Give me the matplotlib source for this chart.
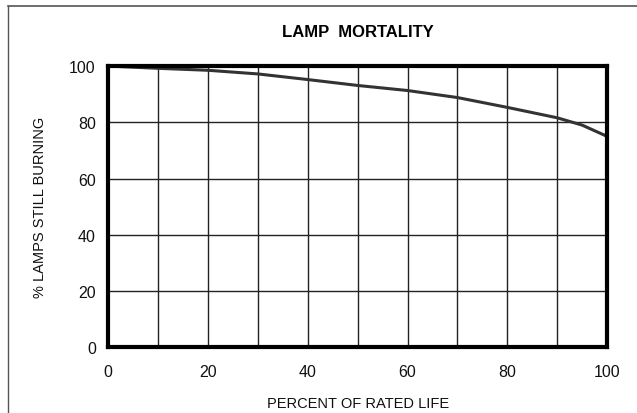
#!/usr/bin/env python3

import matplotlib
matplotlib.use('Agg')
import matplotlib.pyplot as plt
import numpy as np

plt.rcParams['font.family'] = ['Liberation Sans', 'DejaVu Sans']

# values
rated_life = [0, 10, 20, 30, 40, 50, 60, 70, 80, 90, 95, 100]
still_burning = [100, 99.2, 98.5, 97.2, 95.2, 93.1, 91.3, 88.8, 85.3, 81.6, 79.0, 75.0]

x_ticks = [0, 20, 40, 60, 80, 100]
y_ticks = [0, 20, 40, 60, 80, 100]


def main():
    fig = plt.figure(figsize=(6.37, 4.14), dpi=100)
    ax = fig.add_axes([0.170, 0.159, 0.783, 0.679])

    # grid every 10 along x, every 20 along y
    for gx in np.arange(10, 100, 10):
        ax.axvline(gx, color='#222222', lw=1.0, zorder=1)
    for gy in np.arange(20, 100, 20):
        ax.axhline(gy, color='#222222', lw=1.0, zorder=1)

    ax.plot(rated_life, still_burning, color='#333333', lw=2.2,
            solid_capstyle='butt', zorder=3, clip_on=True)

    ax.set_xlim(0, 100)
    ax.set_ylim(0, 100)
    ax.set_xticks(x_ticks)
    ax.set_yticks(y_ticks)
    ax.tick_params(length=0, labelsize=11.5, pad=12, colors='#111111')
    ax.tick_params(axis='y', pad=9)

    for s in ax.spines.values():
        s.set_linewidth(3)
        s.set_color('black')
        s.set_zorder(4)

    ax.set_xlabel('PERCENT OF RATED LIFE', fontsize=10.5, labelpad=12,
                  color='#111111')
    ax.set_ylabel('% LAMPS STILL BURNING', fontsize=10.5, labelpad=16,
                  color='#111111')
    ax.set_title('LAMP  MORTALITY', fontsize=12, fontweight='bold', pad=22)

    # frame lines of the original picture (top and left only)
    fig.add_artist(plt.Line2D([8 / 637, 1], [1 - 7 / 414, 1 - 7 / 414],
                              transform=fig.transFigure, color='#555555', lw=1.2))
    fig.add_artist(plt.Line2D([8 / 637, 8 / 637], [0, 1 - 7 / 414],
                              transform=fig.transFigure, color='#555555', lw=1.0))

    fig.savefig('out.png', dpi=100)


if __name__ == "__main__":
    main()
